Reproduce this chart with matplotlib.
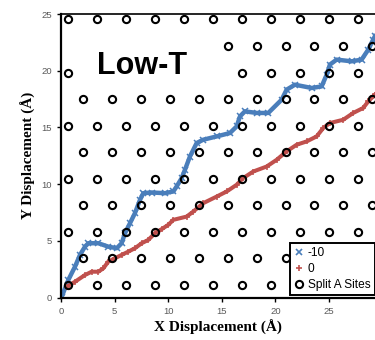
import numpy as np
import matplotlib.pyplot as plt
from matplotlib.lines import Line2D

# Trajectories
blue_x = [0.0, 0.07, 0.68, 1.31, 1.77, 2.24, 2.55, 3.48, 4.41, 5.2, 5.66, 5.97, 6.44, 6.9,
          7.37, 7.68, 8.46, 9.7, 10.48, 10.79, 11.26, 11.57, 12.03, 12.66, 13.27, 14.52,
          15.76, 16.39, 16.7, 17.16, 18.26, 19.34, 20.59, 21.05, 21.83, 23.39, 24.32,
          24.79, 25.09, 25.72, 27.12, 28.05, 28.67, 29.13, 29.29]
blue_y = [0.0, 0.09, 1.56, 2.74, 3.77, 4.5, 4.8, 4.8, 4.5, 4.36, 4.8, 5.68, 6.57, 7.45,
          8.62, 9.21, 9.27, 9.21, 9.36, 9.8, 10.54, 11.28, 12.44, 13.63, 13.92, 14.21,
          14.51, 15.09, 15.98, 16.42, 16.28, 16.28, 17.45, 18.33, 18.77, 18.48, 18.62,
          19.65, 20.54, 20.98, 20.83, 20.98, 21.86, 22.74, 23.04]

red_x = [0.53, 1.31, 2.24, 2.86, 3.48, 3.95, 4.41, 5.04, 5.66, 6.28, 6.9, 7.53, 8.14,
         8.77, 9.39, 10.01, 10.48, 11.73, 12.34, 13.27, 14.52, 15.46, 16.39, 17.0,
         17.94, 19.19, 20.12, 21.05, 21.99, 22.92, 23.85, 24.47, 25.09, 26.33, 27.27,
         28.2, 28.67, 29.13, 29.3]
red_y = [0.97, 1.41, 2.0, 2.29, 2.29, 2.59, 3.18, 3.48, 3.77, 4.06, 4.36, 4.8, 5.09,
         5.68, 6.04, 6.42, 6.86, 7.15, 7.59, 8.33, 8.91, 9.36, 9.95, 10.54, 11.12,
         11.56, 12.15, 12.89, 13.48, 13.77, 14.21, 14.95, 15.39, 15.68, 16.28, 16.72,
         17.3, 17.74, 17.9]

# Split A sites, row by row
sites_x_a = [0.68, 3.38, 6.08, 8.78, 11.48, 14.18, 16.88, 19.58, 22.28, 24.98, 27.68]
sites_x_b = [2.05, 4.75, 7.45, 10.15, 12.85, 15.55, 18.25, 20.95, 23.65, 26.35, 29.05]
rows_a_y = [1.12, 5.8, 10.48, 15.16, 24.56]
rows_b_y = [3.46, 8.14, 12.82, 17.5]
# rows partly behind the "Low-T" label
row_1984_x = [0.68, 16.88, 19.58, 22.28, 24.98, 27.68]
row_2218_x = [15.55, 18.25, 20.95, 23.65, 26.35, 29.05]

site_x, site_y = [], []
for y in rows_a_y:
    site_x += sites_x_a
    site_y += [y] * len(sites_x_a)
for y in rows_b_y:
    site_x += sites_x_b
    site_y += [y] * len(sites_x_b)
site_x += row_1984_x
site_y += [19.84] * len(row_1984_x)
site_x += row_2218_x
site_y += [22.18] * len(row_2218_x)

blue = '#4a7ebb'
red = '#c0504d'

fig = plt.figure(figsize=(3.75, 3.4), dpi=100)
ax = fig.add_axes([61/375, 1 - 297.7/340, 1 - 61/375, (297.7 - 14)/340])

ax.plot(blue_x, blue_y, color=blue, lw=3.2, marker='x', ms=4, mew=1.1, zorder=2)
ax.plot(red_x, red_y, color=red, lw=2.9, marker='+', ms=4.5, mew=1.1, zorder=2)
ax.plot(site_x, site_y, ls='none', marker='o', ms=5.2, mew=1.5,
        mfc='none', mec='black', zorder=4)

ax.text(3.36, 19.74, 'Low-T', fontsize=22, fontweight='bold',
        family='Liberation Sans', ha='left', va='baseline', zorder=5)

ax.set_xlim(0, 29.3)
ax.set_ylim(0, 25)
ax.set_xticks([0, 5, 10, 15, 20, 25])
ax.set_yticks([0, 5, 10, 15, 20, 25])

ax.spines['right'].set_visible(False)
ax.spines['left'].set_linewidth(1.6)
ax.spines['bottom'].set_linewidth(1.6)
ax.spines['top'].set_linewidth(1.2)
ax.tick_params(direction='out', length=3, width=1, pad=3.5,
               labelsize=6.8, labelcolor='#595959')
for lab in ax.get_xticklabels() + ax.get_yticklabels():
    lab.set_family('Liberation Sans')

ax.set_xlabel('X Displacement (Å)', family='Liberation Serif', fontweight='bold',
              fontsize=11, labelpad=3)
ax.set_ylabel('Y Displacement (Å)', family='Liberation Serif', fontweight='bold',
              fontsize=11, labelpad=4)

handles = [
    Line2D([], [], ls='none', marker='x', ms=4, mew=1.2, color=blue),
    Line2D([], [], ls='none', marker='+', ms=4.5, mew=1.2, color=red),
    Line2D([], [], ls='none', marker='o', ms=5.2, mew=1.5, mfc='none', mec='black'),
]
leg = ax.legend(handles, ['-10', '0', 'Split A Sites'], loc='lower left',
                bbox_to_anchor=(0.729, 0.008), prop={'family': 'Liberation Sans', 'size': 8.6},
                handlelength=0.8, handletextpad=0.35, labelspacing=0.35,
                borderpad=0.35, borderaxespad=0, fancybox=False, framealpha=1,
                edgecolor='black')
leg.get_frame().set_linewidth(1.4)
leg.set_zorder(6)

fig.savefig('out.png', dpi=100)
